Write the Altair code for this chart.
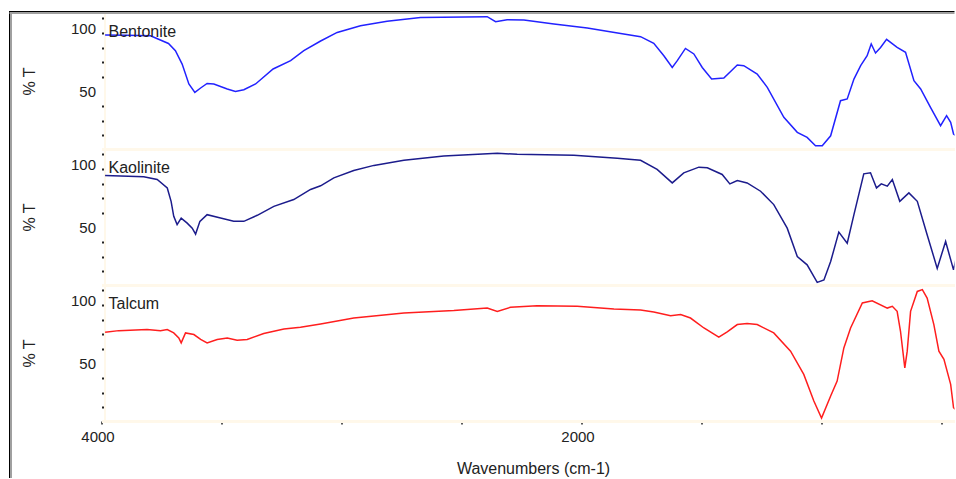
import altair as alt
import pandas as pd

# ---------------- data ----------------
names = ["Bentonite", "Kaolinite", "Talcum"]
colors = ["#2222ff", "#1c1c8c", "#ff1e1e"]

bent_wn = [3985, 3900, 3796, 3721, 3692, 3664, 3636, 3611, 3587, 3560, 3532, 3476, 3442, 3407,
           3358, 3285, 3212, 3157, 3087, 3018, 2921, 2810, 2671, 2393, 2358, 2310, 2240, 2115,
           1976, 1837, 1754, 1699, 1657, 1622, 1601, 1567, 1532, 1497, 1458, 1407, 1351, 1324,
           1268, 1226, 1157, 1101, 1060, 1025, 997, 962, 921, 893, 865, 837, 810, 793, 775, 754,
           729, 685, 650, 615, 587, 546, 504, 479, 462, 450, 439]
bent_t = [94.8, 94.6, 94.2, 88.0, 82.3, 71.7, 55.9, 49.2, 52.7, 56.3, 55.9, 51.9, 50.0, 51.3,
          55.9, 67.8, 74.4, 82.3, 90.0, 96.8, 102.1, 105.6, 108.7, 109.3, 105.3, 106.9, 106.7, 103.5,
          100.3, 96.0, 93.4, 88.1, 78.3, 69.0, 74.4, 84.1, 79.7, 69.0, 59.8, 60.6, 70.9, 70.4,
          63.8, 53.2, 29.4, 17.5, 13.5, 6.9, 6.9, 14.8, 42.6, 44.0, 59.8, 70.4, 78.3, 87.6, 80.5, 84.9,
          91.3, 84.9, 81.0, 58.5, 51.9, 37.3, 22.8, 30.7, 25.4, 16.2, 14.8]

kaol_wn = [3985, 3824, 3768, 3726, 3710, 3699, 3685, 3668, 3643, 3622, 3608, 3590, 3560, 3504,
           3449, 3407, 3351, 3282, 3199, 3129, 3087, 3032, 2949, 2865, 2740, 2574, 2351, 2268,
           2032, 1851, 1754, 1685, 1622, 1574, 1511, 1476, 1414, 1382, 1351, 1310, 1254, 1199,
           1143, 1101, 1060, 1018, 990, 962, 928, 893, 865, 824, 796, 771, 751, 726, 705, 674,
           636, 601, 560, 518, 483, 450, 439]
kaol_t = [91.2, 90.1, 88.0, 81.3, 70.7, 58.8, 52.2, 57.4, 53.4, 49.4, 44.7, 54.8, 60.1, 57.4,
          54.8, 54.8, 59.6, 66.7, 72.1, 80.1, 83.0, 89.3, 95.2, 99.2, 103.2, 106.6, 108.8, 108.0,
          107.2, 104.8, 103.2, 96.0, 85.3, 93.3, 97.8, 97.3, 92.0, 84.5, 87.2, 85.3, 78.7, 68.1,
          49.4, 26.9, 20.3, 6.4, 8.3, 22.9, 46.3, 37.5, 60.1, 92.5, 93.3, 81.3, 84.5, 82.7, 88.0, 70.7,
          77.4, 70.7, 44.2, 17.5, 38.8, 16.3, 25.5]

talc_wn = [3985, 3928, 3810, 3754, 3726, 3699, 3678, 3668, 3650, 3615, 3587, 3560, 3518, 3476,
           3435, 3393, 3324, 3240, 3171, 3087, 2949, 2740, 2532, 2393, 2351, 2296, 2185, 2018,
           1865, 1754, 1699, 1629, 1587, 1546, 1490, 1428, 1393, 1351, 1310, 1268, 1199, 1129,
           1074, 1032, 1000, 962, 935, 907, 879, 830, 789, 726, 705, 685, 671, 653, 643, 629,
           601, 580, 560, 532, 511, 490, 462, 450, 439]
talc_t = [74.7, 76.0, 76.8, 76.0, 76.8, 74.2, 70.2, 66.3, 74.2, 72.9, 69.0, 66.3, 69.0, 70.2,
          68.4, 69.0, 73.7, 77.3, 78.7, 81.3, 86.0, 90.0, 91.9, 93.9, 91.3, 94.5, 95.8, 95.3,
          93.1, 92.3, 90.8, 87.9, 88.7, 86.0, 78.1, 70.8, 75.0, 80.8, 81.6, 80.8, 74.2, 59.7,
          41.3, 20.2, 6.6, 24.2, 36.0, 62.3, 78.1, 97.9, 99.7, 93.9, 95.3, 91.3, 75.5, 46.5, 59.7, 91.3,
          107.1, 108.5, 101.8, 80.8, 59.7, 53.2, 33.4, 14.9, 12.9]

series_wn = [bent_wn, kaol_wn, talc_wn]
series_t = [bent_t, kaol_t, talc_t]

# axis tick values
y_ticks = [15.2, 26.8, 38.4, 50, 61.6, 73.2, 84.8, 96.4, 100, 108.0]
x_ticks = [4000, 3500, 3000, 2500, 2000, 1500, 1000, 500]

# ---------------- layout constants ----------------
W, H = 853, 136
FONT = "Liberation Sans"
CREAM = "#fff8ea"
TXT = "#222222"

xscale = alt.Scale(domain=[446, 4000], reverse=True, nice=False, zero=False)
yscale = alt.Scale(domain=[4.3, 112.2], nice=False, zero=False)

y_axis = alt.Axis(
    values=y_ticks,
    labelExpr="datum.value == 100 ? '100' : datum.value == 50 ? '50' : ''",
    tickColor={"condition": {"test": "datum.value == 100 || datum.value == 50", "value": "transparent"},
               "value": "#222222"},
    orient="left", offset=-3, domainColor=CREAM, domainWidth=2,
    tickSize=3, tickWidth=2, labelPadding=6, labelFontSize=15, labelFont=FONT,
    labelColor=TXT, grid=False, title="% T", titleX=-75.5, titleY=68, titleAngle=270,
    titleAlign="center", titleBaseline="middle", titleFontSize=16, titleFont=FONT,
    titleFontWeight="normal", titleColor=TXT,
)

frame = pd.DataFrame({"a": [0]})


def panel(i):
    df = pd.DataFrame({"wn": series_wn[i], "t": series_t[i]})
    last = i == 2
    if last:
        x_axis = alt.Axis(
            values=x_ticks,
            labelExpr="datum.value == 4000 ? '4000' : datum.value == 2000 ? '2000' : ''",
            domainColor=CREAM, domainWidth=3, tickSize=3, tickWidth=1.5, tickColor="#222222",
            labelPadding=5, labelFontSize=15, labelFont=FONT, labelColor=TXT, labelOffset=-4,
            labelFlush=False, grid=False,
            title="Wavenumbers (cm-1)", titleX=431.5, titleY=52, titleAlign="center",
            titleBaseline="alphabetic", titleFontSize=16, titleFont=FONT,
            titleFontWeight="normal", titleColor=TXT,
        )
    else:
        x_axis = alt.Axis(labels=False, ticks=False, domainColor=CREAM, domainWidth=3,
                          grid=False, title=None)

    line = alt.Chart(df).mark_line(color=colors[i], strokeWidth=1.5, clip=True).encode(
        x=alt.X("wn:Q", scale=xscale, axis=x_axis),
        y=alt.Y("t:Q", scale=yscale, axis=y_axis),
    )
    label = alt.Chart(pd.DataFrame({"name": [names[i]]})).mark_text(
        align="left", baseline="alphabetic", fontSize=16, font=FONT, color=TXT
    ).encode(text="name:N", x=alt.value(7), y=alt.value(24))

    layers = [line, label]
    # window frame (decoration)
    ytop = -2 if i == 0 else 0
    ybot = H + 57 if last else H
    layers.append(alt.Chart(frame).mark_rule(color="#a0a0a0", strokeWidth=2).encode(
        x=alt.value(-90.5), y=alt.value(ytop), y2=alt.value(ybot)))
    layers.append(alt.Chart(frame).mark_rule(color="#000000", strokeWidth=1).encode(
        x=alt.value(-92), y=alt.value(ytop), y2=alt.value(ybot)))
    if i == 0:
        layers.append(alt.Chart(frame).mark_rule(color="#a0a0a0", strokeWidth=2).encode(
            x=alt.value(-92), x2=alt.value(W), y=alt.value(0)))
        layers.append(alt.Chart(frame).mark_rule(color="#000000", strokeWidth=1).encode(
            x=alt.value(-92), x2=alt.value(W), y=alt.value(-1.5)))
    return alt.layer(*layers).properties(width=W, height=H)


chart = alt.vconcat(panel(0), panel(1), panel(2), spacing=0, bounds="flush").properties(
    padding={"left": 8.5, "top": 10, "right": 0, "bottom": 0},
    background="white",
).configure_view(stroke=None)

chart.save("out.html", embed_options={"renderer": "svg", "actions": False})
